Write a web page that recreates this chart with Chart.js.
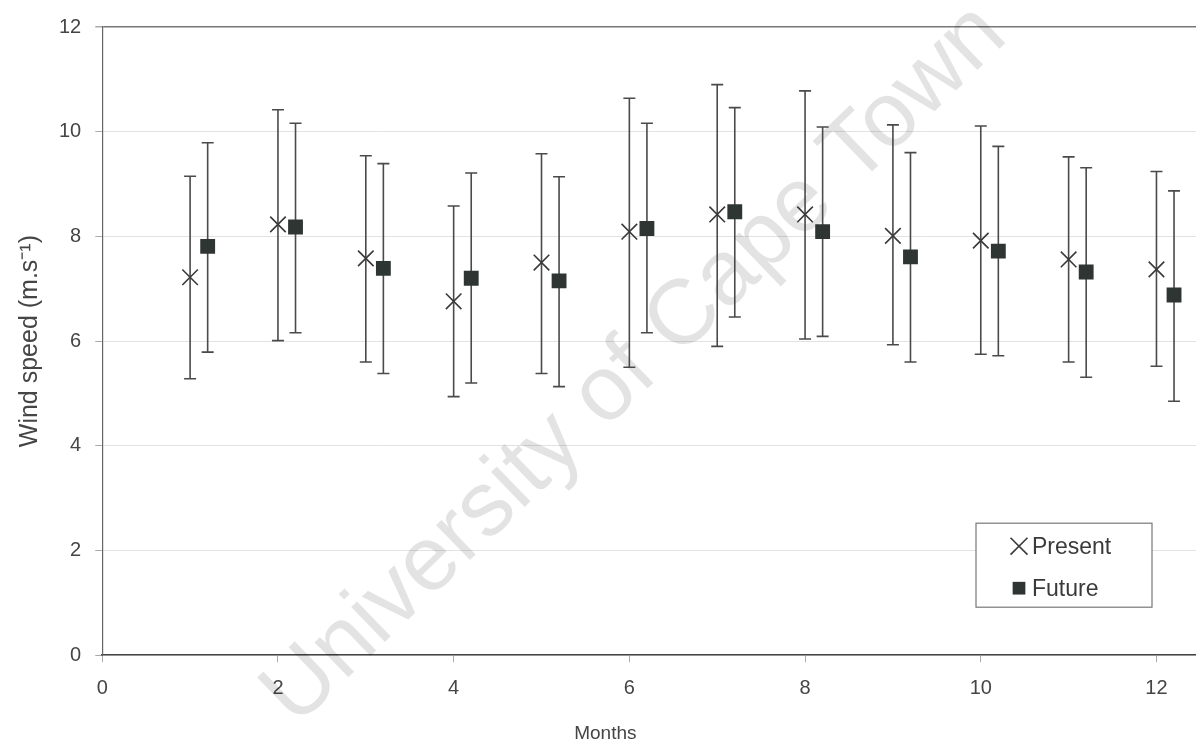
<!DOCTYPE html>
<html>
<head>
<meta charset="utf-8">
<title>Wind speed by month</title>
<script src="https://cdn.jsdelivr.net/npm/chart.js@4"></script>
<style>
  html, body { margin: 0; padding: 0; background: #fff; overflow: hidden; }
  canvas { display: block; }
</style>
</head>
<body>
<canvas id="windChart" width="1196" height="744"></canvas>
<script>
// monthly mean wind speed with min/max range (m/s)
const months = [1, 2, 3, 4, 5, 6, 7, 8, 9, 10, 11, 12];

const presentMean = [7.22, 8.23, 7.58, 6.76, 7.50, 8.09, 8.42, 8.42, 8.01, 7.92, 7.56, 7.37];
const presentLow  = [5.28, 6.01, 5.60, 4.94, 5.38, 5.50, 5.90, 6.04, 5.93, 5.75, 5.60, 5.52];
const presentHigh = [9.15, 10.42, 9.54, 8.58, 9.58, 10.64, 10.90, 10.78, 10.13, 10.11, 9.52, 9.24];

const futureMean = [7.81, 8.18, 7.39, 7.20, 7.15, 8.15, 8.47, 8.09, 7.61, 7.72, 7.32, 6.88];
const futureLow  = [5.79, 6.16, 5.38, 5.20, 5.13, 6.16, 6.46, 6.09, 5.60, 5.72, 5.31, 4.85];
const futureHigh = [9.79, 10.16, 9.39, 9.21, 9.14, 10.16, 10.46, 10.09, 9.60, 9.72, 9.31, 8.87];

const xTicks = [0, 2, 4, 6, 8, 10, 12];
const yTicks = [0, 2, 4, 6, 8, 10, 12];

// future points sit just right of the present ones
const FUTURE_SHIFT = 0.2;

const FONT = "'Liberation Sans', Arial, sans-serif";
const INK = '#3a3a3a';
const LABEL = '#454545';

function toPoints(xs, ys, lo, hi, shift) {
  return xs.map((m, i) => ({ x: m + shift, y: ys[i], lo: lo[i], hi: hi[i] }));
}

// whiskers behind the markers, plus the faint watermark
const rangeBars = {
  id: 'rangeBars',
  beforeDatasetsDraw(chart) {
    const ctx = chart.ctx;
    const xs = chart.scales.x;
    const ys = chart.scales.y;

    ctx.save();
    ctx.translate(296, 728);
    ctx.rotate(-44 * Math.PI / 180);
    ctx.fillStyle = 'rgba(0,0,0,0.11)';
    ctx.font = '92px ' + FONT;
    ctx.textBaseline = 'alphabetic';
    ctx.fillText('University of Cape Town', 0, 0);
    ctx.restore();

    ctx.save();
    ctx.strokeStyle = '#4a4a4a';
    ctx.lineWidth = 1.6;
    chart.data.datasets.forEach(ds => {
      ds.data.forEach(p => {
        const px = xs.getPixelForValue(p.x);
        const top = ys.getPixelForValue(p.hi);
        const bot = ys.getPixelForValue(p.lo);
        ctx.beginPath();
        ctx.moveTo(px, top);
        ctx.lineTo(px, bot);
        ctx.moveTo(px - 6, top);
        ctx.lineTo(px + 6, top);
        ctx.moveTo(px - 6, bot);
        ctx.lineTo(px + 6, bot);
        ctx.stroke();
      });
    });
    ctx.restore();
  }
};

// boxed key in the lower right of the plot, and the x axis caption
const boxedKey = {
  id: 'boxedKey',
  afterDatasetsDraw(chart) {
    const ctx = chart.ctx;
    const a = chart.chartArea;
    const bx = a.right - 220;
    const by = a.bottom - 132;
    const bw = 176;
    const bh = 84;
    ctx.save();
    ctx.fillStyle = '#fff';
    ctx.fillRect(bx, by, bw, bh);
    ctx.strokeStyle = '#777';
    ctx.lineWidth = 1.2;
    ctx.strokeRect(bx, by, bw, bh);

    ctx.font = '23px ' + FONT;
    ctx.textBaseline = 'middle';
    chart.data.datasets.forEach((ds, i) => {
      const cy = by + 23 + i * 42;
      ctx.fillStyle = ds.backgroundColor;
      ctx.strokeStyle = ds.borderColor;
      ctx.lineWidth = 1.6;
      Chart.helpers.drawPoint(ctx, {
        pointStyle: ds.pointStyle,
        radius: i === 0 ? 12 : 9,
        rotation: 0,
        borderWidth: i === 0 ? 1.6 : 0
      }, bx + 43, cy);
      ctx.fillStyle = INK;
      ctx.fillText(ds.label, bx + 56, cy + 1);
    });

    ctx.font = '19px ' + FONT;
    ctx.fillStyle = LABEL;
    ctx.textAlign = 'center';
    ctx.fillText('Months', a.left + (a.right - a.left) * 0.46, chart.height - 10);
    ctx.restore();
  }
};

new Chart(document.getElementById('windChart'), {
  type: 'scatter',
  data: {
    datasets: [
      {
        label: 'Present',
        data: toPoints(months, presentMean, presentLow, presentHigh, 0),
        pointStyle: 'crossRot',
        pointRadius: 11,
        pointBorderWidth: 1.6,
        borderColor: INK,
        backgroundColor: INK
      },
      {
        label: 'Future',
        data: toPoints(months, futureMean, futureLow, futureHigh, FUTURE_SHIFT),
        pointStyle: 'rect',
        pointRadius: 10.5,
        pointBorderWidth: 0,
        borderColor: '#2f3533',
        backgroundColor: '#2f3533'
      }
    ]
  },
  options: {
    responsive: false,
    animation: false,
    devicePixelRatio: 1,
    layout: {
      autoPadding: false,
      padding: { top: 27, left: 15, right: 0, bottom: 0 }
    },
    plugins: {
      legend: { display: false },
      tooltip: { enabled: false }
    },
    scales: {
      x: {
        type: 'linear',
        min: 0,
        max: 12.45,
        afterBuildTicks: s => { s.ticks = xTicks.map(v => ({ value: v })); },
        afterFit: s => { s.paddingRight = 0; },
        ticks: {
          font: { family: FONT, size: 20 },
          color: LABEL,
          padding: 14
        },
        grid: { drawOnChartArea: false, tickLength: 7, tickColor: '#aaa' },
        border: { color: '#444', width: 1.5 },
        // caption itself is drawn by boxedKey; this only keeps room for it
        title: {
          display: true,
          text: ' ',
          font: { family: FONT, size: 19 },
          color: LABEL,
          padding: { top: 7, bottom: 0 }
        }
      },
      y: {
        min: 0,
        max: 12,
        afterBuildTicks: s => { s.ticks = yTicks.map(v => ({ value: v })); },
        ticks: {
          font: { family: FONT, size: 20 },
          color: LABEL,
          padding: 14
        },
        grid: {
          color: c => c.tick && c.tick.value === 12 ? '#777' : '#e2e2e2',
          lineWidth: c => c.tick && c.tick.value === 12 ? 1.5 : 1,
          tickLength: 7,
          tickColor: '#aaa'
        },
        border: { color: '#666', width: 1.2 },
        title: {
          display: true,
          text: 'Wind speed (m.s\u207B\u00B9)',
          font: { family: FONT, size: 25 },
          color: LABEL,
          padding: { top: 0, bottom: 0 }
        }
      }
    }
  },
  plugins: [rangeBars, boxedKey]
});
</script>
</body>
</html>
